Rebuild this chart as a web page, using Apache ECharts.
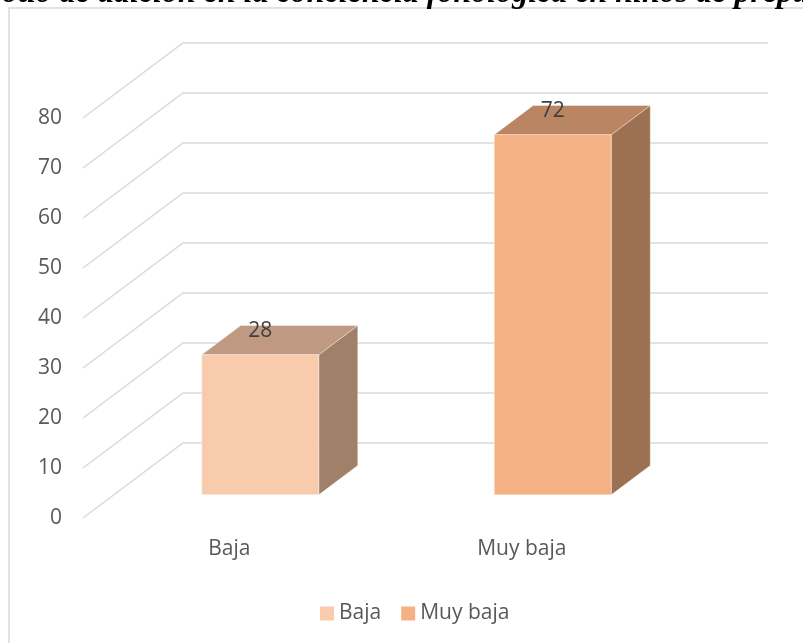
<!DOCTYPE html>
<html>
<head>
<meta charset="utf-8" />
<title></title>
<script type="text/javascript" src="https://cdn.jsdelivr.net/npm/echarts@6/dist/echarts.min.js"></script>
<style>
	html, body { margin: 0; padding: 0; background: #fff; }
</style>
</head>
<body>
	<div id="chartmain" style="width: 803px; height: 643px;"></div>
	<script type="text/javascript">
		// datos
		var categories = [ 'Baja', 'Muy baja' ];
		var values = [ 28, 72 ];
		var yTicks = [ 0, 10, 20, 30, 40, 50, 60, 70, 80 ];

		// colores de cada barra: frente, tapa, lado
		var frontColors = [ '#F8CBAD', '#F4B183' ];
		var topColors = [ '#BF9981', '#B98562' ];
		var sideColors = [ '#A1806A', '#9B7151' ];

		// profundidad 3D en pixeles
		var DX = 100, DY = -75;
		var BAR_OFF = 0.31, BAR_DEPTH = 0.39;

		function renderGrid(params, api) {
			var cs = params.coordSys;
			var y = api.coord([ 0, api.value(0) ])[1];
			var x0 = cs.x;
			var x1 = cs.x + cs.width;
			return {
				type : 'polyline',
				shape : {
					points : [ [ x0, y ], [ x0 + DX, y + DY ], [ x1 + DX, y + DY ] ]
				},
				style : {
					fill : null,
					stroke : '#D9D9D9',
					lineWidth : 1.5
				},
				silent : true
			};
		}

		function renderBar(params, api) {
			var idx = api.value(0);
			var top = api.coord([ idx, api.value(1) ]);
			var base = api.coord([ idx, 0 ]);
			var w = api.size([ 1, 0 ])[0] * 0.4;
			var ox = DX * BAR_OFF, oy = DY * BAR_OFF;
			var dx = DX * BAR_DEPTH, dy = DY * BAR_DEPTH;
			var l = top[0] - w / 2 + ox, r = top[0] + w / 2 + ox;
			var t = top[1] + oy, b = base[1] + oy;
			var edge = 'rgba(255,255,255,0.35)';
			return {
				type : 'group',
				children : [ {
					type : 'polygon',
					shape : { points : [ [ r, t ], [ r + dx, t + dy ], [ r + dx, b + dy ], [ r, b ] ] },
					style : { fill : sideColors[idx], stroke : edge, lineWidth : 1 }
				}, {
					type : 'polygon',
					shape : { points : [ [ l, t ], [ l + dx, t + dy ], [ r + dx, t + dy ], [ r, t ] ] },
					style : { fill : topColors[idx], stroke : edge, lineWidth : 1 }
				}, {
					type : 'rect',
					shape : { x : l, y : t, width : w, height : b - t },
					style : { fill : frontColors[idx], stroke : edge, lineWidth : 1 }
				}, {
					type : 'text',
					x : top[0] + ox,
					y : t - 24,
					style : {
						text : String(api.value(1)),
						fill : '#404040',
						font : '21px "Open Sans"',
						align : 'center',
						verticalAlign : 'middle'
					}
				} ]
			};
		}

		var series = [ {
			name : 'grid3d',
			type : 'custom',
			renderItem : renderGrid,
			data : yTicks.map(function(v) { return [ v ]; }),
			silent : true,
			z : 1
		} ];
		for (var i = 0; i < categories.length; i++) {
			series.push({
				name : categories[i],
				type : 'custom',
				renderItem : renderBar,
				itemStyle : { color : frontColors[i] },
				encode : { x : 0, y : 1 },
				data : [ [ i, values[i] ] ],
				z : 2
			});
		}

		var option = {
			animation : false,
			grid : {
				left : 83,
				right : 135,
				top : 118,
				bottom : 125
			},
			legend : {
				data : categories,
				left : 315,
				top : 598,
				icon : 'rect',
				itemWidth : 14,
				itemHeight : 14,
				itemGap : 20,
				textStyle : {
					color : '#595959',
					fontSize : 21,
					fontFamily : 'Open Sans'
				}
			},
			xAxis : {
				type : 'category',
				data : categories,
				axisLine : { show : false },
				axisTick : { show : false },
				splitLine : { show : false },
				axisLabel : {
					margin : 21,
					color : '#595959',
					fontSize : 21,
					fontFamily : 'Open Sans'
				}
			},
			yAxis : {
				type : 'value',
				min : 0,
				max : 80,
				interval : 10,
				axisLine : { show : false },
				axisTick : { show : false },
				splitLine : { show : false },
				axisLabel : {
					margin : 21,
					color : '#595959',
					fontSize : 21,
					fontFamily : 'Open Sans'
				}
			},
			graphic : [ {
				type : 'polyline',
				shape : { points : [ [ 9, 643 ], [ 9, 8 ], [ 803, 8 ] ] },
				style : { fill : null, stroke : '#D9D9D9', lineWidth : 1.5 },
				silent : true
			}, {
				// titulo cortado arriba
				type : 'text',
				left : 2,
				top : -22,
				style : {
					text : 'otio de adición en la conciencia fonológica en niños de prepa',
					fill : '#000',
					font : 'italic bold 32px "Liberation Serif"'
				},
				silent : true
			} ],
			series : series
		};

		var myChart = echarts.init(document.getElementById('chartmain'));
		myChart.setOption(option);
	</script>
</body>
</html>
